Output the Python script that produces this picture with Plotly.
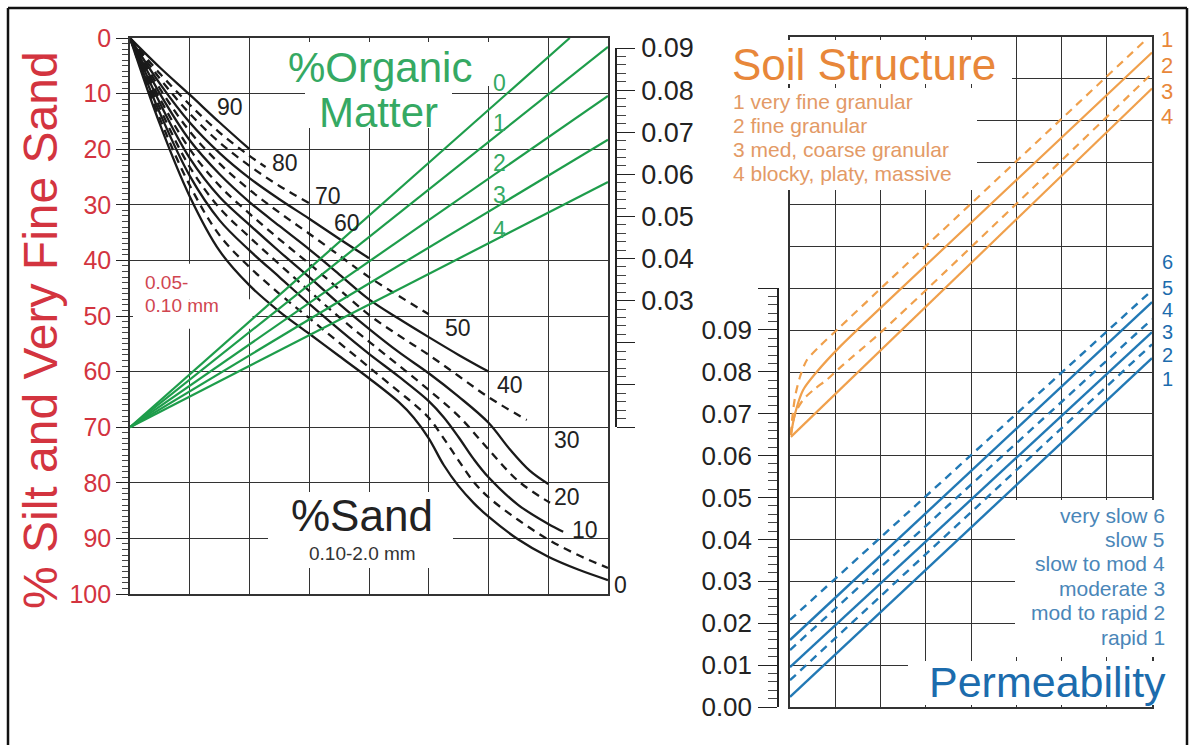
import plotly.graph_objects as go

W, H = 1189, 745
FONT = "Liberation Sans, Arial, sans-serif"

# ---------------- data ----------------
# Left panel: % sand curves (x in grid columns 0-8, y in % silt + very fine sand)
sand90_x = [0, 0.5, 1, 1.5, 2]
sand90_y = [0, 5.3, 10.2, 15.2, 20.0]
sand80_x = [0, 0.5, 1, 1.5, 2, 2.27]
sand80_y = [0, 6.4, 12.0, 17.0, 21.2, 23.2]
sand70_x = [0, 0.5, 1, 1.5, 2, 2.5, 3]
sand70_y = [0, 7.3, 13.6, 18.8, 23.0, 26.6, 29.7]
sand60_x = [0, 0.5, 1, 1.5, 2, 2.5, 3, 3.5, 4]
sand60_y = [0, 8.2, 15.2, 20.7, 25.2, 29.0, 32.5, 36.1, 39.6]
sand50_x = [0, 0.5, 1, 1.5, 2, 2.5, 3, 3.5, 4, 4.5, 5]
sand50_y = [0, 9.1, 16.8, 22.6, 27.3, 31.4, 35.2, 39.1, 43.0, 46.4, 49.7]
sand40_x = [0, 0.5, 1, 1.5, 2, 2.5, 3, 3.5, 4, 4.5, 5, 5.5, 6]
sand40_y = [0, 10.0, 18.4, 24.5, 29.5, 33.8, 38.0, 42.5, 47.0, 50.5, 53.8, 57.0, 60.0]
sand35_x = [0, 0.5, 1, 1.5, 2, 2.5, 3, 3.5, 4, 4.5, 5, 5.5, 6, 6.64]
sand35_y = [0, 10.9, 20.0, 26.6, 31.6, 36.2, 40.6, 45.2, 49.8, 53.5, 57.0, 60.8, 64.6, 68.7]
sand30_x = [0, 0.5, 1, 1.5, 2, 2.5, 3, 3.5, 4, 4.5, 5, 5.5, 6, 6.36, 6.69, 7]
sand30_y = [0, 11.7, 21.6, 28.6, 33.6, 38.4, 43.0, 47.8, 52.3, 56.5, 60.3, 64.5, 69.2, 74.0, 77.8, 80.2]
sand20_x = [0, 0.5, 1, 1.5, 2, 2.5, 3, 3.5, 4, 4.5, 5, 5.5, 6, 6.5, 7.03]
sand20_y = [0, 12.6, 23.2, 30.6, 35.8, 40.7, 45.5, 50.2, 54.6, 58.9, 63.3, 68.0, 74.0, 79.7, 83.6]
sand10_x = [0, 0.5, 1, 1.5, 2, 2.5, 3, 3.5, 4, 4.5, 5, 5.25, 5.5, 5.75, 6, 6.5, 7, 7.25]
sand10_y = [0, 13.5, 24.8, 32.8, 38.2, 43.0, 47.8, 52.4, 56.8, 60.9, 65.3, 68.2, 71.8, 75.7, 79.0, 84.0, 87.4, 88.8]
sand5_x = [0, 0.5, 1, 1.5, 2, 2.5, 3, 3.5, 4, 4.5, 4.75, 5, 5.25, 5.5, 5.75, 6, 6.5, 7, 7.5, 8]
sand5_y = [0, 14.5, 26.5, 35.5, 41.2, 46.0, 50.4, 54.8, 59.2, 63.6, 65.8, 68.3, 72.0, 76.0, 79.8, 82.6, 86.7, 90.2, 93.0, 95.3]
sand0_x = [0, 0.5, 1, 1.5, 2, 2.5, 3, 3.5, 4, 4.5, 4.75, 5, 5.25, 5.5, 5.75, 6, 6.5, 7, 7.5, 8]
sand0_y = [0, 15.5, 28.5, 38.3, 44.5, 49.2, 53.2, 57.2, 61.2, 65.5, 68.3, 72.0, 76.8, 80.6, 83.6, 86.1, 90.2, 93.3, 95.6, 97.5]

# sand curve label text and anchor (grid column, %)
sand_label_text = ["90", "80", "70", "60", "50", "40", "30", "20", "10"]
sand_label_x = [1.67, 2.59, 3.32, 3.63, 5.49, 6.36, 7.31, 7.31, 7.62]
sand_label_y = [12.4, 22.5, 28.5, 33.3, 52.2, 62.4, 72.3, 82.5, 88.5]
sand0_label_y = 98.4

# organic matter lines (from common pivot to right side)
om_names = ["0", "1", "2", "3", "4"]
om_start_x = 0
om_start_y = 70
om_end_x = [7.36, 8, 8, 8, 8]
om_end_y = [0, 1.6, 10.4, 18.3, 25.9]
om_label_x = 6.19
om_label_y = [8.1, 15.3, 22.5, 28.2, 34.5]

# axis ticks
silt_ticks = [0, 10, 20, 30, 40, 50, 60, 70, 80, 90, 100]
k_ticks = [0.00, 0.01, 0.02, 0.03, 0.04, 0.05, 0.06, 0.07, 0.08, 0.09]
k_labels = ["", "", "", "0.03", "0.04", "0.05", "0.06", "0.07", "0.08", "0.09"]
perm_ticks = [0.00, 0.01, 0.02, 0.03, 0.04, 0.05, 0.06, 0.07, 0.08, 0.09, 0.10]
perm_tick_labels = ["0.00", "0.01", "0.02", "0.03", "0.04", "0.05", "0.06", "0.07", "0.08", "0.09", ""]

# right panel: soil structure lines (x in grid columns 0-8, y in K units)
struct1_x = [0.02, 0.06, 0.12, 0.22, 0.37, 0.66, 1.1, 2.06, 7.9]
struct1_y = [0.065, 0.070, 0.0745, 0.0788, 0.0828, 0.0862, 0.0907, 0.1005, 0.1597]
struct2_x = [0.02, 0.11, 0.29, 0.59, 1.1, 2.06, 8]
struct2_y = [0.065, 0.070, 0.0757, 0.080, 0.086, 0.0959, 0.1563]
struct3_x = [0.02, 0.12, 0.3, 0.55, 0.82, 1.1, 2.06, 8]
struct3_y = [0.065, 0.0702, 0.0735, 0.076, 0.0782, 0.081, 0.090, 0.1513]
struct4_x = [0.02, 8]
struct4_y = [0.0645, 0.1477]
struct_names = ["1", "2", "3", "4"]
struct_legend = ["1 very fine granular", "2 fine granular",
                 "3 med, coarse granular", "4 blocky, platy, massive"]
struct_label_y = [0.1593, 0.1531, 0.1469, 0.1409]

# permeability lines
perm_x = [0, 8]
perm6_y = [0.0208, 0.0995]
perm5_y = [0.0160, 0.0967]
perm4_y = [0.0136, 0.0926]
perm3_y = [0.0095, 0.0895]
perm2_y = [0.0064, 0.0866]
perm1_y = [0.0024, 0.0833]
perm_names = ["6", "5", "4", "3", "2", "1"]
perm_label_y = [0.1063, 0.1001, 0.0948, 0.0895, 0.0841, 0.0783]
perm_legend = ["very slow 6", "slow 5", "slow to mod 4", "moderate 3",
               "mod to rapid 2", "rapid 1"]

# ---------------- styles ----------------
BLACK = "#1a1a1a"
GRID = "#333333"
RED = "#d3343f"
GREEN = "#1e9d4b"
GREEN_T = "#35a963"
ORANGE = "#f0a04c"
ORANGE_T = "#e8873a"
ORANGE_L = "#e39a66"
BLUE = "#2279b5"
BLUE_T = "#1c6cad"
BLUE_L = "#4a86b8"
DASH = "8px,6px"


def px(x):
    return x / W


def py(y):
    return 1 - y / H


fig = go.Figure()

sand_curves = [
    (sand90_x, sand90_y, "solid"), (sand80_x, sand80_y, DASH),
    (sand70_x, sand70_y, DASH), (sand60_x, sand60_y, "solid"),
    (sand50_x, sand50_y, DASH), (sand40_x, sand40_y, "solid"),
    (sand35_x, sand35_y, DASH), (sand30_x, sand30_y, "solid"),
    (sand20_x, sand20_y, DASH), (sand10_x, sand10_y, "solid"),
    (sand5_x, sand5_y, DASH), (sand0_x, sand0_y, "solid"),
]
for xs, ys, d in sand_curves:
    fig.add_trace(go.Scatter(x=xs, y=ys, mode="lines", xaxis="x", yaxis="y",
                             line=dict(color=BLACK, width=2.3, dash=d,
                                       shape="spline", smoothing=1.0),
                             hoverinfo="skip", showlegend=False))

for ex, ey in zip(om_end_x, om_end_y):
    fig.add_trace(go.Scatter(x=[om_start_x, ex], y=[om_start_y, ey], mode="lines",
                             xaxis="x", yaxis="y",
                             line=dict(color=GREEN, width=2.2),
                             hoverinfo="skip", showlegend=False))

struct_curves = [(struct1_x, struct1_y, DASH), (struct2_x, struct2_y, "solid"),
                 (struct3_x, struct3_y, DASH), (struct4_x, struct4_y, "solid")]
for xs, ys, d in struct_curves:
    fig.add_trace(go.Scatter(x=xs, y=ys, mode="lines", xaxis="x2", yaxis="y2",
                             line=dict(color=ORANGE, width=2.2, dash=d,
                                       shape="spline", smoothing=0.8),
                             hoverinfo="skip", showlegend=False))

perm_curves = [(perm6_y, DASH), (perm5_y, "solid"), (perm4_y, DASH),
               (perm3_y, "solid"), (perm2_y, DASH), (perm1_y, "solid")]
for ys, d in perm_curves:
    fig.add_trace(go.Scatter(x=perm_x, y=ys, mode="lines", xaxis="x2", yaxis="y2",
                             line=dict(color=BLUE, width=2.4, dash=d),
                             hoverinfo="skip", showlegend=False))

# dummy traces so the ruler axes are drawn
fig.add_trace(go.Scatter(x=[None], y=[None], xaxis="x3", yaxis="y3",
                         showlegend=False, hoverinfo="skip"))
fig.add_trace(go.Scatter(x=[None], y=[None], xaxis="x4", yaxis="y4",
                         showlegend=False, hoverinfo="skip"))

grid_common = dict(showgrid=True, gridcolor=GRID, gridwidth=1.4, zeroline=False,
                   showline=True, mirror=True, linecolor=GRID, linewidth=1.6,
                   fixedrange=True, automargin=False)

fig.update_layout(
    width=W, height=H, autosize=False,
    margin=dict(l=0, r=0, t=0, b=0, pad=0, autoexpand=False),
    paper_bgcolor="white", plot_bgcolor="white",
    showlegend=False,
    font=dict(family=FONT, color="#222"),
    xaxis=dict(domain=[px(130), px(608)], range=[0, 8], dtick=1, tick0=0,
               showticklabels=False, ticks="", anchor="y", **grid_common),
    yaxis=dict(domain=[py(594), py(38)], range=[100, 0], tickmode="array",
               tickvals=silt_ticks, ticks="outside", ticklen=12, tickwidth=1.3,
               tickcolor="#222",
               minor=dict(dtick=1, tick0=0, ticks="outside", ticklen=6,
                          tickwidth=1, tickcolor="#444", showgrid=False),
               tickfont=dict(size=25, color=RED, family=FONT),
               ticklabelstandoff=0, anchor="x", **grid_common),
    xaxis2=dict(domain=[px(790), px(1152)], range=[0, 8], dtick=1, tick0=0,
                showticklabels=False, ticks="", anchor="y2", **grid_common),
    yaxis2=dict(domain=[py(707), py(37)], range=[0, 0.16], dtick=0.01, tick0=0,
                showticklabels=False, ticks="", anchor="x2", **grid_common),
    xaxis3=dict(domain=[px(614), px(615)], range=[0, 1], visible=False,
                anchor="y3", fixedrange=True, automargin=False),
    yaxis3=dict(domain=[py(427), py(48)], range=[0, 0.09], anchor="x3",
                side="right", tickmode="array", tickvals=k_ticks,
                ticktext=k_labels, ticks="outside", ticklen=18, tickwidth=1.3,
                tickcolor="#222", showline=True, linecolor="#222", linewidth=1.5,
                showgrid=False, zeroline=False, automargin=False,
                minor=dict(dtick=0.002, tick0=0, ticks="outside", ticklen=9,
                           tickwidth=1, tickcolor="#444", showgrid=False),
                tickfont=dict(size=27, color="#222", family=FONT),
                ticklabelstandoff=1, fixedrange=True),
    xaxis4=dict(domain=[px(779), px(780)], range=[0, 1], visible=False,
                anchor="y4", fixedrange=True, automargin=False),
    yaxis4=dict(domain=[py(707), py(288)], range=[0, 0.10], anchor="x4",
                side="left", tickmode="array", tickvals=perm_ticks,
                ticktext=perm_tick_labels, ticks="outside", ticklen=19,
                tickwidth=1.3, tickcolor="#222", showline=True,
                linecolor="#222", linewidth=1.5, showgrid=False, zeroline=False,
                automargin=False,
                minor=dict(dtick=0.002, tick0=0, ticks="outside", ticklen=9,
                           tickwidth=1, tickcolor="#444", showgrid=False),
                tickfont=dict(size=26, color="#222", family=FONT),
                ticklabelstandoff=1, fixedrange=True),
)

# outer frame
for x0, y0, x1, y1 in [(8, 8, 8, 745), (8, 8, 1187, 8), (1187, 8, 1187, 745)]:
    fig.add_shape(type="line", xref="paper", yref="paper",
                  x0=px(x0), y0=py(y0), x1=px(x1), y1=py(y1),
                  line=dict(color="#111", width=2.5), layer="above")

# white box behind "0.05-0.10 mm" (hides grid, stays below curves)
fig.add_shape(type="rect", xref="x", yref="y", x0=0.05, x1=1.45, y0=40.6, y1=47.0,
              fillcolor="white", line=dict(width=0), layer="between")
fig.add_shape(type="rect", xref="x", yref="y", x0=0.05, x1=2.05, y0=47.0, y1=52.3,
              fillcolor="white", line=dict(width=0), layer="between")

annotations = []


def box(x0, y0, x1, y1):
    annotations.append(dict(text=" ", xref="paper", yref="paper",
                            x=px(x0), y=py(y0), xanchor="left", yanchor="top",
                            width=x1 - x0, height=y1 - y0, bgcolor="white",
                            borderpad=0, borderwidth=0, showarrow=False))


def txt(text, x, y, size, color, xanchor="center", yanchor="middle",
        xref="paper", yref="paper", **kw):
    annotations.append(dict(text=text, x=x, y=y, xref=xref, yref=yref,
                            xanchor=xanchor, yanchor=yanchor, showarrow=False,
                            font=dict(size=size, color=color, family=FONT), **kw))


# white label boxes
box(268, 42, 490, 86)
box(305, 86, 452, 128)
box(268, 492, 453, 568)
box(722, 40, 1012, 84)
box(722, 88, 977, 190)
box(1015, 500, 1180, 657)
box(908, 661, 1180, 705)

# left panel texts
txt("% Silt and Very Fine Sand", px(40), py(330), 48, RED, textangle=-90)
txt("0.05-", px(143), py(282), 19, "#d04550", xanchor="left")
txt("0.10 mm", px(143), py(306), 19, "#d04550", xanchor="left")
txt("%Organic", px(380), py(67), 42, GREEN_T)
txt("Matter", px(378), py(113), 42, GREEN_T)
txt("%Sand", px(362), py(515), 44, "#222")
txt("0.10-2.0 mm", px(362), py(553), 19, "#333")

for t, xx, yy in zip(sand_label_text, sand_label_x, sand_label_y):
    txt(t, xx, yy, 23, "#222", xref="x", yref="y")
txt("0", 8, sand0_label_y, 23, "#222", xanchor="left", xref="x", yref="y", xshift=4)

for t, yy in zip(om_names, om_label_y):
    txt(t, om_label_x, yy, 23, GREEN_T, xref="x", yref="y")

# right panel texts
txt("Soil Structure", px(730), py(65), 44, ORANGE_T, xanchor="left")
for i, t in enumerate(struct_legend):
    txt(t, px(731), py(101 + i * 24.2), 21, ORANGE_L, xanchor="left")
for t, yy in zip(struct_names, struct_label_y):
    txt(t, 8, yy, 22, ORANGE_T, xanchor="left", xref="x2", yref="y2", xshift=7)
for t, yy in zip(perm_names, perm_label_y):
    txt(t, 8, yy, 20, BLUE_T, xanchor="left", xref="x2", yref="y2", xshift=8)
for i, t in enumerate(perm_legend):
    txt(t, px(1167), py(515 + i * 24.4), 21, BLUE_L, xanchor="right")
txt("Permeability", px(1168), py(682), 43, BLUE_T, xanchor="right")

fig.update_layout(annotations=annotations)

fig.write_html("out.html")
